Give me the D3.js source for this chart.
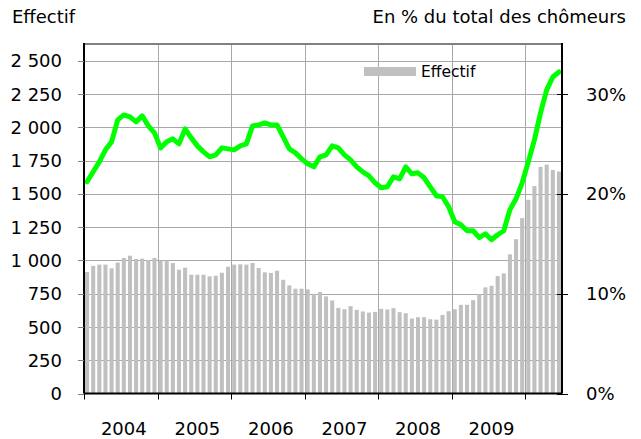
<!DOCTYPE html>
<html>
<head>
<meta charset="utf-8">
<script src="https://cdn.jsdelivr.net/npm/d3@7"></script>
<style>
  body { margin: 0; background: white; }
  text { font-family: "DejaVu Sans", Verdana, sans-serif; fill: #000; }
</style>
</head>
<body>
<script>
// years shown on the axis (the series runs 6 more months after the last one)
var years = ["2004", "2005", "2006", "2007", "2008", "2009"];

// monthly headcount (left axis)
var effectif = [
  912, 958, 968, 968, 940, 983, 1018, 1035, 1010, 1013, 1003, 1018,
  998, 1000, 980, 930, 945, 892, 892, 892, 880, 885, 907, 952,
  968, 970, 968, 980, 943, 910, 905, 922, 854, 812, 787, 787,
  782, 749, 762, 729, 699, 643, 633, 656, 628, 616, 608, 613,
  636, 631, 641, 611, 603, 563, 573, 573, 558, 555, 590, 618,
  633, 666, 666, 701, 744, 797, 809, 882, 902, 1045, 1159, 1317,
  1455, 1558, 1702, 1719, 1679, 1667
];

// share of all unemployed, in % (right axis)
var partChomeurs = [
  21.2, 22.2, 23.2, 24.4, 25.2, 27.4, 27.9, 27.7, 27.2, 27.8, 26.8, 26.1,
  24.6, 25.2, 25.5, 25.0, 26.5, 25.6, 24.8, 24.2, 23.7, 23.9, 24.6, 24.5,
  24.4, 24.8, 25.0, 26.8, 26.9, 27.1, 26.9, 26.9, 25.7, 24.5, 24.1, 23.5,
  23.0, 22.7, 23.7, 23.9, 24.8, 24.6, 23.9, 23.4, 22.7, 22.2, 21.8, 21.1,
  20.6, 20.7, 21.7, 21.5, 22.7, 22.0, 22.1, 21.6, 20.7, 19.8, 19.7, 18.7,
  17.2, 16.9, 16.3, 16.3, 15.6, 16.0, 15.4, 15.9, 16.3, 18.4, 19.5, 21.1,
  23.2, 25.4, 28.1, 30.4, 31.7, 32.2
];

var leftTicks = [0, 250, 500, 750, 1000, 1250, 1500, 1750, 2000, 2250, 2500];
var rightTicks = [0, 10, 20, 30];

var titleLeft = "Effectif";
var titleRight = "En % du total des chômeurs";
var legendLabel = "Effectif";

var months = effectif.map(function(d, i) {
  var y = 2004 + Math.floor(i / 12);
  var m = (i % 12) + 1;
  return y + "-" + (m < 10 ? "0" + m : m);
});

var screen = {width: 641, height: 439};
var plot = {left: 84, right: 562, top: 44, bottom: 393.5};

var svg = d3.select("body")
            .append("svg")
            .attr("width", screen.width)
            .attr("height", screen.height);

var x = d3.scaleBand()
          .domain(months)
          .range([plot.left, plot.right])
          .paddingInner(0.34)
          .paddingOuter(0.17);

var step = (plot.right - plot.left) / months.length;

var yLeft = d3.scaleLinear()
              .domain([0, 2625])
              .range([plot.bottom, plot.top]);

var yRight = d3.scaleLinear()
               .domain([0, 35])
               .range([plot.bottom, plot.top]);

var fmt = function(d) {
  return d3.format(",")(d).replace(/,/g, " ");
};

// x position where each year starts
var yearEdges = months.map(function(d, i) { return i; })
                      .filter(function(i) { return i % 12 == 0; })
                      .map(function(i) { return plot.left + i * step; });

// horizontal grid
svg.append("g")
   .selectAll("line")
   .data(leftTicks.filter(function(d) { return d > 0; }))
   .enter()
   .append("line")
   .attr("x1", plot.left)
   .attr("x2", plot.right)
   .attr("y1", function(d) { return Math.round(yLeft(d)) + 0.5; })
   .attr("y2", function(d) { return Math.round(yLeft(d)) + 0.5; })
   .attr("stroke", "#a8a8a8")
   .attr("stroke-width", 1);

// vertical grid
svg.append("g")
   .selectAll("line")
   .data(yearEdges.slice(1))
   .enter()
   .append("line")
   .attr("x1", function(d) { return Math.round(d) + 0.5; })
   .attr("x2", function(d) { return Math.round(d) + 0.5; })
   .attr("y1", plot.top)
   .attr("y2", plot.bottom)
   .attr("stroke", "#a8a8a8")
   .attr("stroke-width", 1);

// bars
svg.append("g")
   .selectAll("rect")
   .data(effectif)
   .enter()
   .append("rect")
   .attr("x", function(d, i) { return x(months[i]); })
   .attr("y", function(d) { return yLeft(d); })
   .attr("width", x.bandwidth())
   .attr("height", function(d) { return plot.bottom - yLeft(d); })
   .attr("fill", "#c0c0c0");

// line on the right axis
var line = d3.line()
             .x(function(d, i) { return x(months[i]) + x.bandwidth() / 2; })
             .y(function(d) { return yRight(d); });

svg.append("path")
   .datum(partChomeurs)
   .attr("d", line)
   .attr("fill", "none")
   .attr("stroke", "#00ff00")
   .attr("stroke-width", 5)
   .attr("stroke-linejoin", "round")
   .attr("stroke-linecap", "round");

// frame
svg.append("line")
   .attr("x1", plot.left)
   .attr("x2", plot.right)
   .attr("y1", plot.top)
   .attr("y2", plot.top)
   .attr("stroke", "#808080")
   .attr("stroke-width", 2);

// left axis
svg.append("line")
   .attr("x1", plot.left)
   .attr("x2", plot.left)
   .attr("y1", plot.top - 1)
   .attr("y2", plot.bottom)
   .attr("stroke", "#000")
   .attr("stroke-width", 2);

var leftAxis = svg.append("g");
leftAxis.selectAll("line")
        .data(leftTicks)
        .enter()
        .append("line")
        .attr("x1", plot.left - 6)
        .attr("x2", plot.left)
        .attr("y1", function(d) { return Math.round(yLeft(d)) + 0.5; })
        .attr("y2", function(d) { return Math.round(yLeft(d)) + 0.5; })
        .attr("stroke", "#808080");

leftAxis.selectAll("text")
        .data(leftTicks)
        .enter()
        .append("text")
        .attr("x", 62)
        .attr("y", function(d) { return yLeft(d) + 6.7; })
        .attr("text-anchor", "end")
        .attr("font-size", 18)
        .text(fmt);

// right axis
svg.append("line")
   .attr("x1", plot.right)
   .attr("x2", plot.right)
   .attr("y1", plot.top - 1)
   .attr("y2", plot.bottom)
   .attr("stroke", "#000")
   .attr("stroke-width", 2);

var rightAxis = svg.append("g");
rightAxis.selectAll("line")
         .data(rightTicks)
         .enter()
         .append("line")
         .attr("x1", plot.right - 5)
         .attr("x2", plot.right + 6)
         .attr("y1", function(d) { return Math.round(yRight(d)) + 0.5; })
         .attr("y2", function(d) { return Math.round(yRight(d)) + 0.5; })
         .attr("stroke", "#000");

rightAxis.selectAll("text")
         .data(rightTicks)
         .enter()
         .append("text")
         .attr("x", 586)
         .attr("y", function(d) { return yRight(d) + 6.7; })
         .attr("font-size", 18)
         .text(function(d) { return d + "%"; });

// bottom axis
svg.append("line")
   .attr("x1", plot.left)
   .attr("x2", plot.right)
   .attr("y1", plot.bottom)
   .attr("y2", plot.bottom)
   .attr("stroke", "#000")
   .attr("stroke-width", 2);

svg.append("g")
   .selectAll("line")
   .data(yearEdges)
   .enter()
   .append("line")
   .attr("x1", function(d) { return Math.round(d) + 0.5; })
   .attr("x2", function(d) { return Math.round(d) + 0.5; })
   .attr("y1", plot.bottom)
   .attr("y2", plot.bottom + 6)
   .attr("stroke", "#000");

svg.append("g")
   .selectAll("text")
   .data(years)
   .enter()
   .append("text")
   .attr("x", function(d, i) { return yearEdges[i] + step * 6.5; })
   .attr("y", 435)
   .attr("text-anchor", "middle")
   .attr("font-size", 18)
   .text(function(d) { return d; });

// titles
svg.append("text")
   .attr("x", 12)
   .attr("y", 23)
   .attr("font-size", 18)
   .text(titleLeft);

svg.append("text")
   .attr("x", 626)
   .attr("y", 23)
   .attr("text-anchor", "end")
   .attr("font-size", 18)
   .text(titleRight);

// legend
var legend = svg.append("g")
                .attr("transform", "translate(364,67)");

legend.append("rect")
      .attr("x", 0)
      .attr("y", 0)
      .attr("width", 52)
      .attr("height", 9)
      .attr("fill", "#c0c0c0");

legend.append("text")
      .attr("x", 57)
      .attr("y", 10)
      .attr("font-size", 15.5)
      .text(legendLabel);
</script>
</body>
</html>
